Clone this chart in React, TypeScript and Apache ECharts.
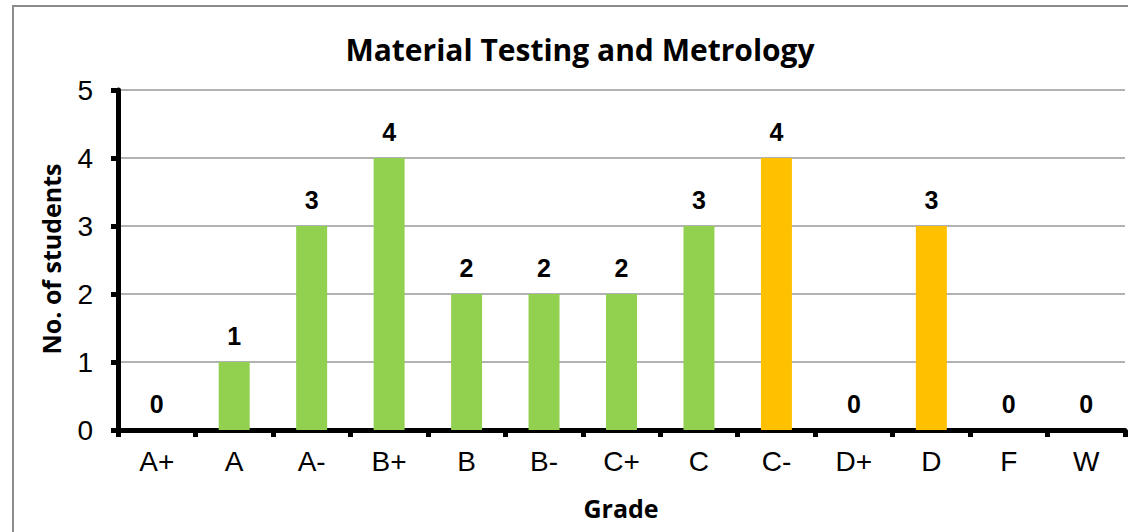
import React, { useEffect, useRef } from "react";
import * as echarts from "echarts";

const categories = ["A+", "A", "A-", "B+", "B", "B-", "C+", "C", "C-", "D+", "D", "F", "W"];
const counts = [0, 1, 3, 4, 2, 2, 2, 3, 4, 0, 3, 0, 0];
const barColors = ["#92D050", "#92D050", "#92D050", "#92D050", "#92D050", "#92D050", "#92D050", "#92D050", "#FFC000", "#FFC000", "#FFC000", "#FFC000", "#FFC000"];
const titleText = "Material Testing and Metrology";
const xName = "Grade";
const yName = "No. of students";

export default function App() {
  const ref = useRef<HTMLDivElement>(null);
  useEffect(() => {
    document.body.style.margin = "0";
    const chart = echarts.init(ref.current!, null, { renderer: "svg" });
    chart.setOption({
      animation: false,
      backgroundColor: "#ffffff",
      graphic: [
        {
          type: "rect",
          shape: { x: 13, y: 6, width: 1140, height: 540 },
          style: { fill: "none", stroke: "#8c8c8c", lineWidth: 2 },
        },
        {
          type: "text",
          x: 580,
          y: 49,
          style: {
            text: titleText,
            fontFamily: "Open Sans",
            fontWeight: "bold",
            fontSize: 30,
            fill: "#000",
            textAlign: "center",
            textVerticalAlign: "middle",
          },
        },
        {
          type: "text",
          x: 621,
          y: 508,
          style: {
            text: xName,
            fontFamily: "Open Sans",
            fontWeight: "bold",
            fontSize: 25,
            fill: "#000",
            textAlign: "center",
            textVerticalAlign: "middle",
          },
        },
        {
          type: "text",
          x: 51,
          y: 259,
          rotation: Math.PI / 2,
          style: {
            text: yName,
            fontFamily: "Open Sans",
            fontWeight: "bold",
            fontSize: 25,
            fill: "#000",
            textAlign: "center",
            textVerticalAlign: "middle",
          },
        },
      ],
      grid: { left: 118, right: 3, top: 90, height: 340, containLabel: false },
      xAxis: {
        type: "category",
        data: categories,
        boundaryGap: true,
        axisLine: { lineStyle: { color: "#000", width: 5 } },
        axisTick: { show: true, length: 7, lineStyle: { color: "#000", width: 5 }, alignWithLabel: false },
        axisLabel: { color: "#000", fontFamily: "Liberation Sans", fontSize: 28, margin: 17 },
      },
      yAxis: {
        type: "value",
        min: 0,
        max: 5,
        interval: 1,
        axisLine: { show: true, lineStyle: { color: "#000", width: 5 } },
        axisTick: { show: true, length: 7, lineStyle: { color: "#000", width: 5 } },
        axisLabel: { color: "#000", fontFamily: "Liberation Sans", fontSize: 28, margin: 25 },
        splitLine: { lineStyle: { color: "#999", width: 1.5 } },
      },
      series: [
        {
          type: "bar",
          barWidth: "40%",
          data: counts.map((v, i) => ({ value: v, itemStyle: { color: barColors[i] } })),
          label: {
            show: true,
            position: "top",
            distance: 14,
            color: "#000",
            fontFamily: "Liberation Sans",
            fontWeight: "bold",
            fontSize: 25,
          },
        },
      ],
    });
    return () => chart.dispose();
  }, []);
  return <div ref={ref} style={{ width: 1128, height: 532 }} />;
}
